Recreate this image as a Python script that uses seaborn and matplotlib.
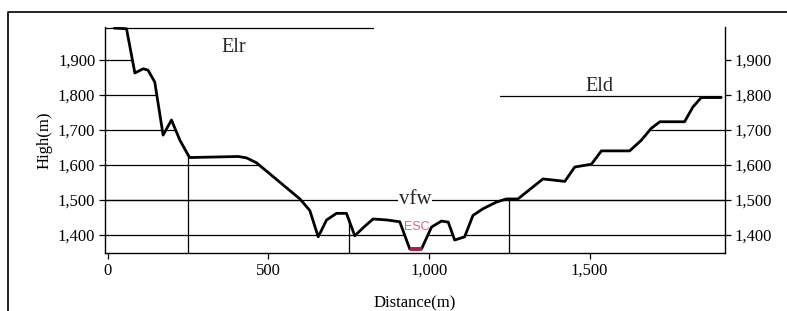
import numpy as np
import pandas as pd
import matplotlib.pyplot as plt
import seaborn as sns
from matplotlib.ticker import StrMethodFormatter, FixedLocator
from matplotlib.lines import Line2D

sns.set_theme(style="white")
plt.rcParams['font.family'] = ['Liberation Serif', 'DejaVu Serif']

# terrain profile (m)
distance = [20, 58, 84, 110, 125, 146, 172, 198, 224, 250, 255, 406, 432, 463,
            530, 598, 629, 655, 681, 712, 743, 769, 795, 826, 870, 909, 940,
            977, 1008, 1039, 1060, 1080, 1111, 1137, 1168, 1210, 1241, 1277,
            1303, 1355, 1386, 1423, 1454, 1506, 1537, 1625, 1661, 1692, 1719,
            1796, 1822, 1848, 1874, 1910]
elevation = [1990, 1988, 1862, 1874, 1870, 1836, 1685, 1728, 1671, 1628, 1621,
             1624, 1620, 1606, 1555, 1503, 1470, 1395, 1443, 1462, 1462, 1398,
             1421, 1446, 1443, 1438, 1361, 1361, 1423, 1440, 1437, 1386, 1395,
             1456, 1475, 1494, 1503, 1503, 1522, 1560, 1557, 1553, 1594, 1602,
             1640, 1640, 1670, 1704, 1723, 1723, 1765, 1792, 1792, 1792]

esc_distance = [940, 977]
esc_elevation = [1361, 1361]

grid_levels = [1400, 1500, 1600, 1700, 1800, 1900]
section_marks = [250, 750, 1250]

elr_level, elr_end = 1989, 825
eld_level, eld_start = 1795, 1221
vfw_level = 1500

x_ticks = [0, 500, 1000, 1500]
y_ticks = [1400, 1500, 1600, 1700, 1800, 1900]
x_lim = (-9, 1922)
y_lim = (1349, 1993)

df = pd.DataFrame({'distance': distance, 'elevation': elevation})

fig = plt.figure(figsize=(7.87, 3.11), dpi=100)
ax = fig.add_axes([105 / 787, 1 - 253 / 311, 620 / 787, 226 / 311])

# grid lines, later hidden above the ground
for lvl in grid_levels:
    ax.axhline(lvl, color='black', lw=0.9, zorder=1)
for m in section_marks:
    ax.axvline(m, color='black', lw=0.9, zorder=1)

fill_x = distance + [x_lim[1]]
fill_y = elevation + [elevation[-1]]
ax.fill_between(fill_x, fill_y, y_lim[1] + 50, color='white', zorder=2)

# reference levels
ax.plot([x_lim[0], elr_end], [elr_level, elr_level], color='black', lw=0.9, zorder=3)
ax.plot([eld_start, distance[-1]], [eld_level, eld_level], color='black', lw=0.9, zorder=3)
ax.axhline(vfw_level, color='black', lw=0.9, zorder=3)

sns.lineplot(data=df, x='distance', y='elevation', color='black', lw=2.0,
             sort=False, estimator=None, ax=ax, zorder=4)
ax.plot(esc_distance, esc_elevation, color='#a3224f', lw=2.8, zorder=5,
        solid_capstyle='butt')

ax.text(393, 1935, 'Elr', ha='center', va='center', fontsize=14.5, zorder=6)
ax.text(1530, 1824, 'Eld', ha='center', va='center', fontsize=14.5, zorder=6)
ax.text(956, 1502, 'vfw', ha='center', va='center', fontsize=15, zorder=3.5,
        bbox=dict(fc='white', ec='none', pad=0.3))
ax.text(963, 1422, 'ESC', ha='center', va='center', fontsize=9, color='#e0608a',
        family=['Liberation Sans', 'DejaVu Sans'], zorder=6)

ax.set_xlim(*x_lim)
ax.set_ylim(*y_lim)
ax.xaxis.set_major_locator(FixedLocator(x_ticks))
ax.yaxis.set_major_locator(FixedLocator(y_ticks))
ax.xaxis.set_major_formatter(StrMethodFormatter('{x:,.0f}'))
ax.yaxis.set_major_formatter(StrMethodFormatter('{x:,.0f}'))

ax.tick_params(axis='both', direction='out', length=4, width=0.9,
               colors='black', labelsize=12, pad=3)
ax.tick_params(axis='x', bottom=True)
ax.tick_params(axis='y', left=True, right=True, labelright=True)

for side in ['left', 'right', 'bottom']:
    ax.spines[side].set_color('black')
    ax.spines[side].set_linewidth(1.0)
ax.spines['top'].set_visible(False)

ax.set_xlabel('Distance(m)', fontsize=12, color='black', labelpad=12)
ax.set_ylabel('High(m)', fontsize=12, color='black', labelpad=4)

fig.add_artist(Line2D([8 / 787, 8 / 787, 1], [0, 1 - 12 / 311, 1 - 12 / 311],
                      transform=fig.transFigure, color='black', lw=1.2))

fig.savefig('out.png', dpi=100)
